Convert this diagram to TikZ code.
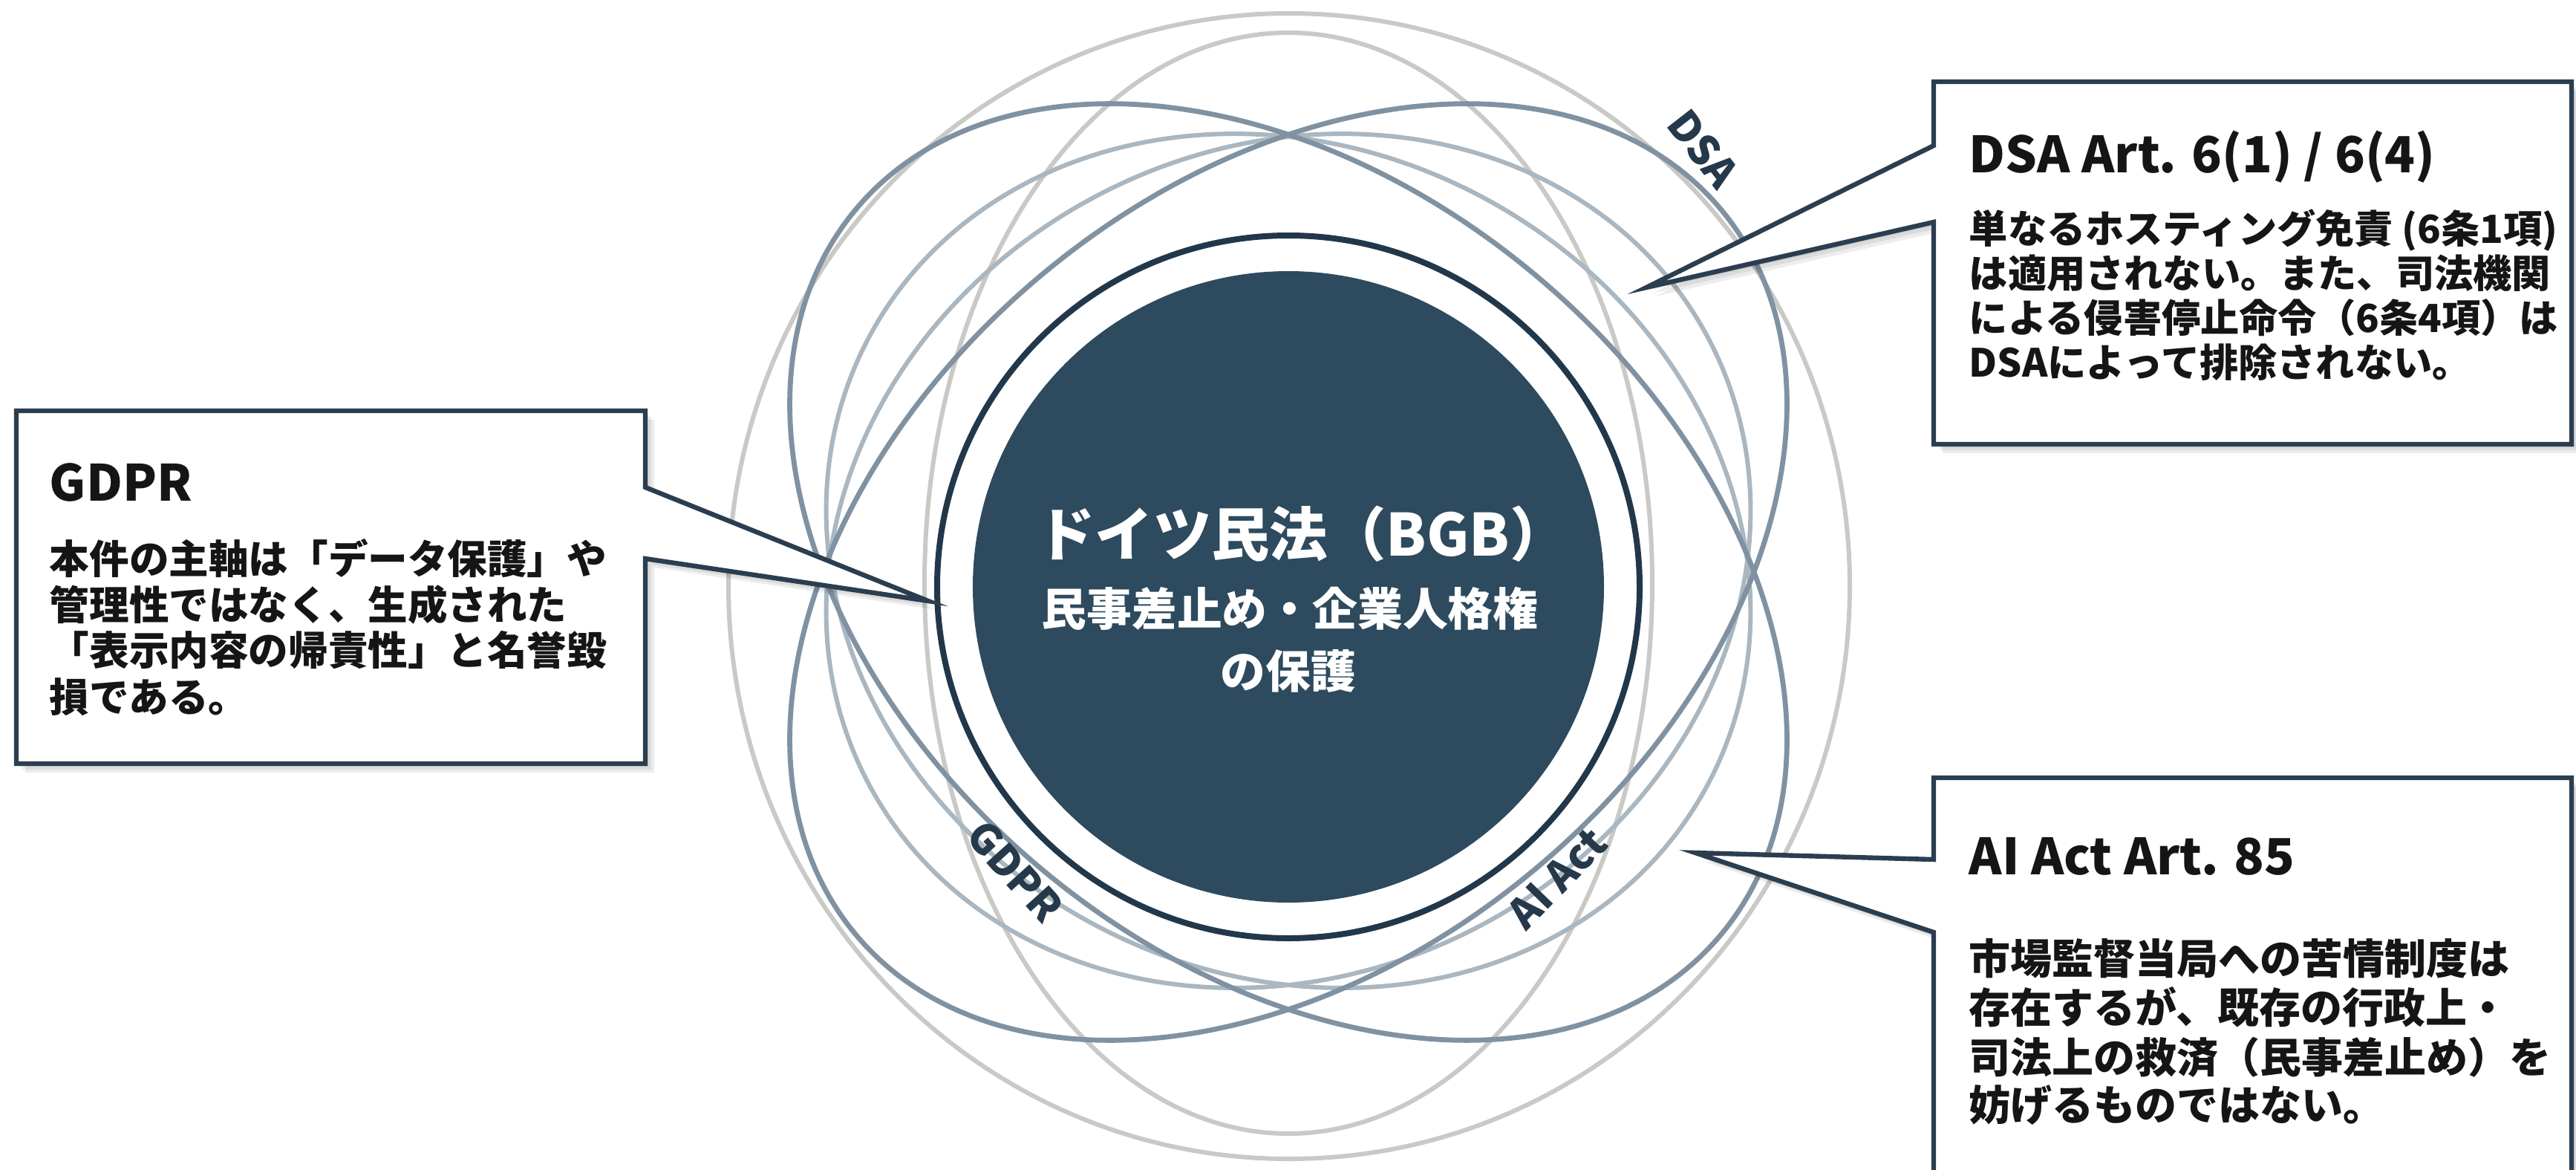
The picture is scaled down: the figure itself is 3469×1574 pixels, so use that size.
\documentclass[tikz,border=0pt]{standalone}
\usepackage{fontspec}
\setmainfont{Noto Sans CJK JP}
\usetikzlibrary{calc}
\definecolor{navy}{HTML}{2D4A5E}
\definecolor{ringc}{HTML}{22384A}
\definecolor{midc}{HTML}{8092A2}
\definecolor{lightc}{HTML}{AAB7C1}
\definecolor{grayc}{HTML}{C9C9C6}
\definecolor{boxc}{HTML}{2B3E4F}
\definecolor{txt}{HTML}{151515}
\definecolor{lab}{HTML}{25394A}
\begin{document}
\begin{tikzpicture}[x=0.25pt,y=-0.25pt,
  graycurve/.style={draw=grayc,line width=1.5pt},
  midcurve/.style={draw=midc,line width=1.7pt},
  lightcurve/.style={draw=lightc,line width=1.5pt},
  callout/.style={draw=boxc,line width=1.6pt,fill=white,line join=miter},
  shadowshape/.style={fill=black,opacity=0.07},
  orbitlabel/.style={text=lab,inner sep=0pt,font=\bfseries\fontsize{14}{16}\selectfont},
  coretext/.style={text=white,inner sep=0pt},
  boxtitle/.style={anchor=base west,text=txt,inner sep=0pt,font=\bfseries\fontsize{16.8}{20}\selectfont},
  dsabody/.style={anchor=base west,text=txt,inner sep=0pt,font=\bfseries\fontsize{13.05}{15}\selectfont},
  gdprbody/.style={anchor=base west,text=txt,inner sep=0pt,font=\bfseries\fontsize{13.4}{15}\selectfont},
  aibody/.style={anchor=base west,text=txt,inner sep=0pt,font=\bfseries\fontsize{14}{16}\selectfont}
]
\useasboundingbox (0,0) rectangle (3469,1574);
\clip (0,0) rectangle (3469,1574);
\fill[white] (0,0) rectangle (3469,1574);

\coordinate (c0) at (1735,790);
\coordinate (cm) at (1735,770);
\coordinate (cl) at (1735,755);

% orbit curves
\draw[graycurve] (1736,789) ellipse [x radius=755, y radius=771];
\draw[graycurve] (1735,785) ellipse [x radius=490, y radius=741];
\draw[lightcurve, rotate around={28:(cl)}] (cl) ellipse [x radius=640, y radius=555];
\draw[lightcurve, rotate around={-28:(cl)}] (cl) ellipse [x radius=640, y radius=555];
\draw[midcurve, rotate around={40:(cm)}] (cm) ellipse [x radius=760, y radius=520];
\draw[midcurve, rotate around={-40:(cm)}] (cm) ellipse [x radius=760, y radius=520];

% core
\node[circle, draw=ringc, line width=2pt, fill=white, minimum size=236.5pt, inner sep=0pt] (ring) at (c0) {};
\node[circle, fill=navy, minimum size=212.5pt, inner sep=0pt] (core) at (c0) {};
\node[coretext, font=\bfseries\fontsize{19.6}{24}\selectfont] (bgb1) at (1754,719) {ドイツ民法（BGB）};
\node[coretext, font=\bfseries\fontsize{15.2}{18}\selectfont] (bgb2) at (1737,819) {民事差止め・企業人格権};
\node[coretext, font=\bfseries\fontsize{15.2}{18}\selectfont] (bgb3) at (1735,903) {の保護};

% orbit labels
\node[orbitlabel, rotate=-52] (dsalab) at (2294,200) {DSA};
\node[orbitlabel, rotate=-48] (gdprlab) at (1367,1173) {GDPR};
\node[orbitlabel, rotate=46] (ailab) at (2097,1182) {AI Act};

% ---- DSA callout
\coordinate (dsatip) at (2217,387);
\foreach \s in {4,8,12}{
  \fill[shadowshape] (2604+\s,110+\s) -- (3463+\s,110+\s) -- (3463+\s,598+\s) -- (2604+\s,598+\s) -- (2604+\s,299+\s) -- (2217+\s,387+\s) -- (2604+\s,196+\s) -- cycle;
}
\path[callout] (2604,110) -- (3463,110) -- (3463,598) -- (2604,598) -- (2604,299) -- (dsatip) -- (2604,196) -- cycle;
\node[boxtitle] (dsat) at (2651,232) {DSA Art. 6(1) / 6(4)};
\node[dsabody] (dsa1) at (2651,327) {単なるホスティング免責 (6条1項)};
\node[dsabody] (dsa2) at (2651,387) {は適用されない。また、司法機関};
\node[dsabody] (dsa3) at (2651,447) {による侵害停止命令（6条4項）は};
\node[dsabody] (dsa4) at (2651,507) {DSAによって排除されない。};

% ---- GDPR callout
\coordinate (gdprtip) at (1250,809);
\foreach \s in {4,8,12}{
  \fill[shadowshape] (22+\s,553+\s) -- (869+\s,553+\s) -- (869+\s,656+\s) -- (1250+\s,809+\s) -- (869+\s,752+\s) -- (869+\s,1028+\s) -- (22+\s,1028+\s) -- cycle;
}
\path[callout] (22,553) -- (869,553) -- (869,656) -- (gdprtip) -- (869,752) -- (869,1028) -- (22,1028) -- cycle;
\node[boxtitle] (gdprt) at (66,674) {GDPR};
\node[gdprbody] (gdpr1) at (66,772) {本件の主軸は「データ保護」や};
\node[gdprbody] (gdpr2) at (66,834) {管理性ではなく、生成された};
\node[gdprbody] (gdpr3) at (66,895) {「表示内容の帰責性」と名誉毀};
\node[gdprbody] (gdpr4) at (66,958) {損である。};

% ---- AI Act callout
\coordinate (aitip) at (2283,1148);
\foreach \s in {4,8,12}{
  \fill[shadowshape] (2604+\s,1047+\s) -- (3463+\s,1047+\s) -- (3463+\s,1640) -- (2604+\s,1640) -- (2604+\s,1255+\s) -- (2283+\s,1148+\s) -- (2604+\s,1157+\s) -- cycle;
}
\path[callout] (2604,1047) -- (3463,1047) -- (3463,1640) -- (2604,1640) -- (2604,1255) -- (aitip) -- (2604,1157) -- cycle;
\node[boxtitle] (ait) at (2651,1177) {AI Act Art. 85};
\node[aibody] (ai1) at (2651,1311) {市場監督当局への苦情制度は};
\node[aibody] (ai2) at (2651,1377) {存在するが、既存の行政上・};
\node[aibody] (ai3) at (2651,1444) {司法上の救済（民事差止め）を};
\node[aibody] (ai4) at (2651,1508) {妨げるものではない。};
\end{tikzpicture}
\end{document}
